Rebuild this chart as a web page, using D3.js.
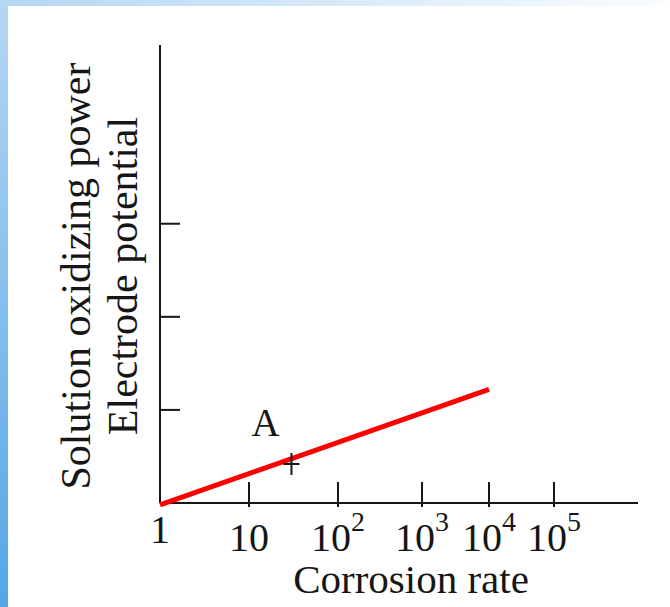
<!DOCTYPE html>
<html>
<head>
<meta charset="utf-8">
<script src="https://cdn.jsdelivr.net/npm/d3@7"></script>
<style>
  body { margin: 0; background: #fff; }
  svg { display: block; }
</style>
</head>
<body>
<div id="chart-container"></div>
<script>
// Chart data
const xTickValues = [1, 10, 1e2, 1e3, 1e4, 1e5];
const xTickLabels = [
    { base: '1' }, { base: '10' },
    { base: '10', sup: '2' }, { base: '10', sup: '3' },
    { base: '10', sup: '4' }, { base: '10', sup: '5' }
];
const yTickValues = [1, 2, 3];
const lineX = [1, 1e4];
const lineY = [-0.02, 1.22];
const pointA = { x: 30, y: 0.42, label: 'A' };
const xTitle = 'Corrosion rate';
const yTitles = ['Solution oxidizing power', 'Electrode potential'];

// Layout
const width = 670, height = 607;
const plot = { left: 160, right: 638, top: 45, bottom: 503 };
const decadeGaps = [89, 89, 84, 67, 65];  // spacing of the decade ticks as drawn (not even)
const yMax = 4.92;
const fontFamily = "'Liberation Serif', 'Times New Roman', serif";
const ink = '#161616';

const svg = d3.select('#chart-container')
    .append('svg')
    .attr('width', width)
    .attr('height', height);

// Slide-like gradient frame on left and top
const defs = svg.append('defs');
const gLeft = defs.append('linearGradient').attr('id', 'gl')
    .attr('x1', 0).attr('y1', 0).attr('x2', 0).attr('y2', 1);
gLeft.append('stop').attr('offset', '0%').attr('stop-color', '#b6d7f3');
gLeft.append('stop').attr('offset', '100%').attr('stop-color', '#55a6e7');
const gTop = defs.append('linearGradient').attr('id', 'gt')
    .attr('x1', 0).attr('y1', 0).attr('x2', 1).attr('y2', 0);
gTop.append('stop').attr('offset', '0%').attr('stop-color', '#b3d6f3');
gTop.append('stop').attr('offset', '100%').attr('stop-color', '#fbfdff');

svg.append('rect').attr('x', 0).attr('y', 0).attr('width', width).attr('height', 6).attr('fill', 'url(#gt)');
svg.append('rect').attr('x', 0).attr('y', 0).attr('width', 8).attr('height', height).attr('fill', 'url(#gl)');

// Scales
let acc = plot.left;
const xRange = [acc].concat(decadeGaps.map(g => (acc += g)));
const x = d3.scaleLog().domain(xTickValues).range(xRange);
const y = d3.scaleLinear().domain([0, yMax]).range([plot.bottom, plot.top]);

// Axes lines
svg.append('line')
    .attr('x1', plot.left).attr('x2', plot.right)
    .attr('y1', plot.bottom).attr('y2', plot.bottom)
    .attr('stroke', ink).attr('stroke-width', 2);
svg.append('line')
    .attr('x1', plot.left).attr('x2', plot.left)
    .attr('y1', plot.bottom).attr('y2', plot.top)
    .attr('stroke', ink).attr('stroke-width', 2);

// x ticks (skip the one at the origin)
svg.selectAll('.xtick')
    .data(xTickValues.slice(1))
    .enter()
    .append('line')
    .attr('class', 'xtick')
    .attr('x1', d => x(d)).attr('x2', d => x(d))
    .attr('y1', plot.bottom + 4).attr('y2', plot.bottom - 21)
    .attr('stroke', ink).attr('stroke-width', 2);

// y ticks
svg.selectAll('.ytick')
    .data(yTickValues)
    .enter()
    .append('line')
    .attr('class', 'ytick')
    .attr('x1', plot.left).attr('x2', plot.left + 20)
    .attr('y1', d => y(d)).attr('y2', d => y(d))
    .attr('stroke', ink).attr('stroke-width', 2);

// x tick labels
const tl = svg.selectAll('.xlabel')
    .data(xTickValues)
    .enter()
    .append('text')
    .attr('class', 'xlabel')
    .attr('x', d => x(d))
    .attr('y', (d, i) => i === 0 ? plot.bottom + 40 : plot.bottom + 48)
    .attr('text-anchor', 'middle')
    .attr('font-family', fontFamily)
    .attr('font-size', 40)
    .attr('fill', ink);
tl.append('tspan').text((d, i) => xTickLabels[i].base);
tl.filter((d, i) => xTickLabels[i].sup)
    .append('tspan')
    .attr('dy', -20)
    .attr('font-size', 28)
    .text(d => xTickLabels[xTickValues.indexOf(d)].sup);

// Axis titles
svg.append('text')
    .attr('x', 411)
    .attr('y', 593)
    .attr('text-anchor', 'middle')
    .attr('font-family', fontFamily)
    .attr('font-size', 41)
    .attr('fill', ink)
    .text(xTitle);

svg.selectAll('.ytitle')
    .data(yTitles)
    .enter()
    .append('text')
    .attr('class', 'ytitle')
    .attr('transform', (d, i) => `translate(${90 + i * 47},276) rotate(-90)`)
    .attr('text-anchor', 'middle')
    .attr('font-family', fontFamily)
    .attr('font-size', 42)
    .attr('fill', ink)
    .text(d => d);

// Red line
const lineData = lineX.map((v, i) => ({ x: v, y: lineY[i] }));
svg.append('path')
    .datum(lineData)
    .attr('d', d3.line().x(d => x(d.x)).y(d => y(d.y)))
    .attr('fill', 'none')
    .attr('stroke', '#ff0000')
    .attr('stroke-width', 5)
    .attr('stroke-linecap', 'butt');

// Point A marker and label
const px = x(pointA.x), py = y(pointA.y);
svg.append('path')
    .attr('d', `M${px - 8},${py} H${px + 8} M${px},${py - 11} V${py + 11}`)
    .attr('stroke', ink)
    .attr('stroke-width', 2)
    .attr('fill', 'none');
svg.append('text')
    .attr('x', px - 26)
    .attr('y', py - 28)
    .attr('text-anchor', 'middle')
    .attr('font-family', fontFamily)
    .attr('font-size', 39)
    .attr('fill', ink)
    .text(pointA.label);
</script>
</body>
</html>
